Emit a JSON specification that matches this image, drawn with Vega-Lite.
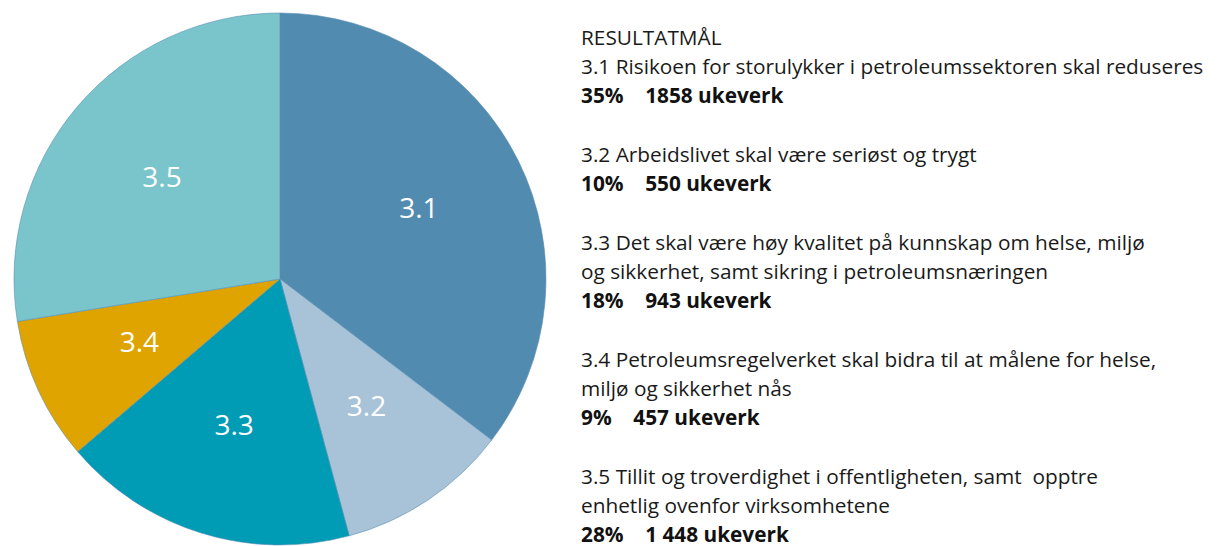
{
  "$schema": "https://vega.github.io/schema/vega-lite/v6.json",
  "padding": {"left": 12, "top": 11, "right": 0, "bottom": 0},
  "background": "white",
  "spacing": 33,
  "config": {"view": {"stroke": null}},
  "hconcat": [
    {
      "width": 532,
      "height": 532,
      "data": {"values": [
        {"id": "3.1", "ukeverk": 1858},
        {"id": "3.2", "ukeverk": 550},
        {"id": "3.3", "ukeverk": 943},
        {"id": "3.4", "ukeverk": 457},
        {"id": "3.5", "ukeverk": 1448}
      ]},
      "encoding": {
        "theta": {"field": "ukeverk", "type": "quantitative", "stack": true},
        "order": {"field": "id", "type": "ordinal"}
      },
      "layer": [
        {
          "mark": {"type": "arc", "outerRadius": 266, "stroke": "#5a8fb3", "strokeWidth": 0.6},
          "encoding": {
            "color": {
              "field": "id", "type": "nominal", "legend": null,
              "scale": {"domain": ["3.1", "3.2", "3.3", "3.4", "3.5"],
                        "range": ["#528bb0", "#a8c2d8", "#009bb5", "#dfa400", "#7ac5cb"]}
            }
          }
        },
        {
          "mark": {"type": "text", "radius": 155, "fontSize": 28, "font": "Open Sans", "color": "white", "baseline": "middle", "align": "center"},
          "encoding": {"text": {"field": "id"}}
        }
      ]
    },
    {
      "width": 640,
      "height": 532,
      "data": {"values": [
        {"line": 0, "txt": "RESULTATMÅL", "bold": false},
        {"line": 1, "txt": "3.1 Risikoen for storulykker i petroleumssektoren skal reduseres", "bold": false},
        {"line": 2, "txt": "35%\u00a0\u00a0\u00a0\u00a01858 ukeverk", "bold": true},
        {"line": 4, "txt": "3.2 Arbeidslivet skal være seriøst og trygt", "bold": false},
        {"line": 5, "txt": "10%\u00a0\u00a0\u00a0\u00a0550 ukeverk", "bold": true},
        {"line": 7, "txt": "3.3 Det skal være høy kvalitet på kunnskap om helse, miljø", "bold": false},
        {"line": 8, "txt": "og sikkerhet, samt sikring i petroleumsnæringen", "bold": false},
        {"line": 9, "txt": "18%\u00a0\u00a0\u00a0\u00a0943 ukeverk", "bold": true},
        {"line": 11, "txt": "3.4 Petroleumsregelverket skal bidra til at målene for helse,", "bold": false},
        {"line": 12, "txt": "miljø og sikkerhet nås", "bold": false},
        {"line": 13, "txt": "9%\u00a0\u00a0\u00a0\u00a0457 ukeverk", "bold": true},
        {"line": 15, "txt": "3.5 Tillit og troverdighet i offentligheten, samt\u00a0\u00a0opptre", "bold": false},
        {"line": 16, "txt": "enhetlig ovenfor virksomhetene", "bold": false},
        {"line": 17, "txt": "28%\u00a0\u00a0\u00a0\u00a01 448 ukeverk", "bold": true}
      ]},
      "encoding": {
        "y": {"field": "line", "type": "quantitative", "axis": null,
              "scale": {"domain": [-0.889, 17.308], "reverse": true, "nice": false, "zero": false}},
        "x": {"datum": 0, "type": "quantitative", "axis": null, "scale": {"domain": [0, 1]}},
        "text": {"field": "txt"}
      },
      "layer": [
        {
          "transform": [{"filter": "!datum.bold"}],
          "mark": {"type": "text", "align": "left", "baseline": "middle", "fontSize": 20.8, "font": "Open Sans", "color": "#1a1a1a"}
        },
        {
          "transform": [{"filter": "datum.bold"}],
          "mark": {"type": "text", "align": "left", "baseline": "middle", "fontSize": 20.8, "font": "Open Sans", "fontWeight": "bold", "color": "#111111"}
        }
      ]
    }
  ]
}
